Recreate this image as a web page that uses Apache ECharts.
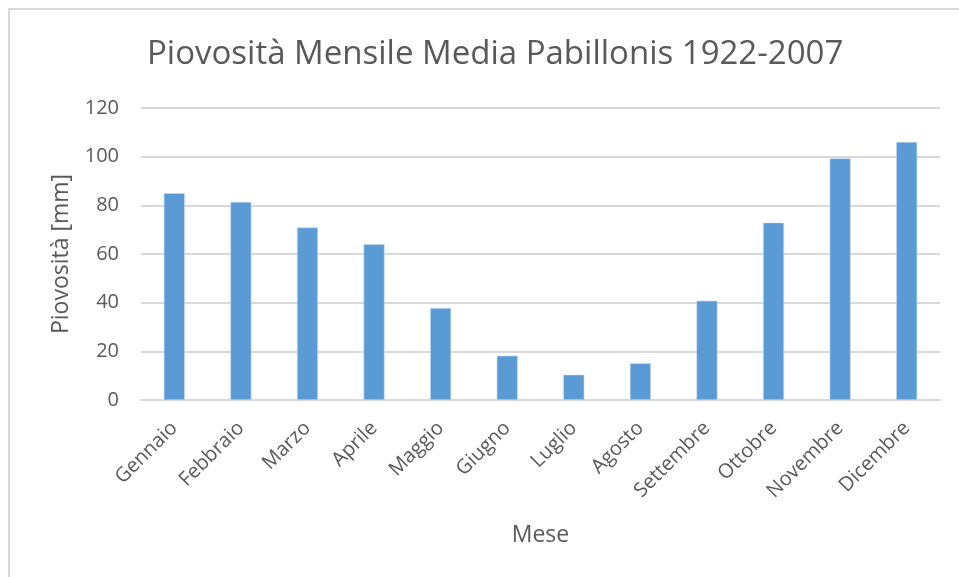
<!DOCTYPE html>
<html>
<head>
  <meta charset="utf-8" />
  <title>Piovosità Mensile Media Pabillonis 1922-2007</title>
  <script src="https://cdn.jsdelivr.net/npm/echarts@6/dist/echarts.min.js"></script>
  <style>
    html, body { margin: 0; padding: 0; background: #fff; }
    #frame { position: absolute; left: 8px; top: 8px; width: 951px; height: 569px;
             border-left: 2px solid #d9d9d9; border-top: 2px solid #d9d9d9; box-sizing: border-box; }
    #chart { position: absolute; left: 0; top: 0; width: 959px; height: 577px; }
  </style>
</head>
<body>
  <div id="frame"></div>
  <div id="chart"></div>
  <script type="text/javascript">
    // Inline data
    let months = ['Gennaio', 'Febbraio', 'Marzo', 'Aprile', 'Maggio', 'Giugno',
      'Luglio', 'Agosto', 'Settembre', 'Ottobre', 'Novembre', 'Dicembre'];
    let rainfall = [85.0, 81.4, 70.9, 64.0, 37.8, 18.2, 10.4, 15.1, 40.8, 72.9, 99.3, 106.0];

    var chart = echarts.init(document.getElementById('chart'));

    var option = {
      textStyle: { fontFamily: 'Open Sans' },
      title: {
        text: 'Piovosità Mensile Media Pabillonis 1922-2007',
        left: 142,
        top: 33,
        textStyle: { fontSize: 33, fontWeight: 'normal', color: '#595959' }
      },
      grid: { left: 141, right: 19, top: 108, bottom: 177 },
      xAxis: {
        type: 'category',
        data: months,
        name: 'Mese',
        nameLocation: 'middle',
        nameGap: 124,
        nameTextStyle: { fontSize: 23, color: '#595959' },
        axisLine: { lineStyle: { color: '#d9d9d9', width: 2 } },
        axisTick: { show: false },
        axisLabel: { rotate: 45, fontSize: 20, color: '#595959', margin: 25 }
      },
      yAxis: {
        type: 'value',
        min: 0,
        max: 120,
        interval: 20,
        name: 'Piovosità [mm]',
        nameLocation: 'middle',
        nameGap: 68,
        nameTextStyle: { fontSize: 23, color: '#595959' },
        axisLine: { show: false },
        axisTick: { show: false },
        axisLabel: { fontSize: 20, color: '#595959', margin: 22 },
        splitLine: { lineStyle: { color: '#d9d9d9', width: 2 } }
      },
      series: [
        {
          name: 'Piovosità',
          type: 'bar',
          data: rainfall,
          barWidth: 21,
          itemStyle: { color: '#5b9bd5', borderColor: '#c5daf0', borderWidth: 0.6 }
        }
      ]
    };

    chart.setOption(option);
  </script>
</body>
</html>
